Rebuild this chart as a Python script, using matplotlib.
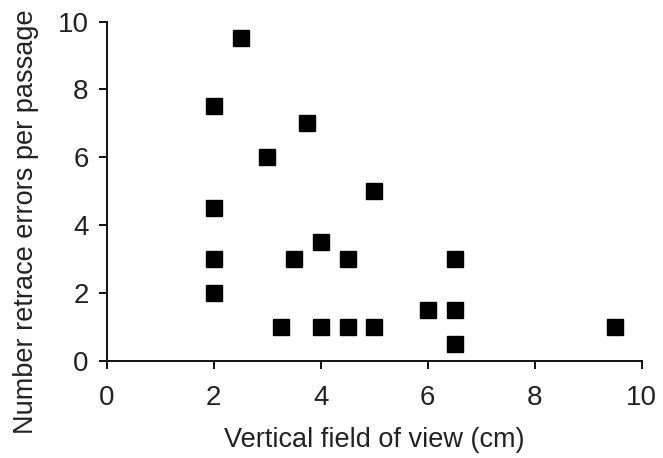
import matplotlib
matplotlib.use("Agg")
import matplotlib.pyplot as plt

# vertical field of view (cm) vs retrace errors per passage
fov_cm = [2.5, 2, 3.75, 3, 5, 2, 4, 2, 3.5, 4.5, 6.5, 2, 6, 6.5, 3.25, 4, 4.5, 5, 6.5, 9.5]
retrace_errors = [9.5, 7.5, 7, 6, 5, 4.5, 3.5, 3, 3, 3, 3, 2, 1.5, 1.5, 1, 1, 1, 1, 0.5, 1]

x_ticks = [0, 2, 4, 6, 8, 10]
y_ticks = [0, 2, 4, 6, 8, 10]

plt.rcParams['font.family'] = ['Liberation Sans', 'DejaVu Sans']

fig = plt.figure(figsize=(6.63, 4.58), dpi=100)
ax = fig.add_axes([0.161, 0.212, 0.807, 0.741])

ax.plot(fov_cm, retrace_errors, linestyle='none', marker='s', markersize=11.5,
        color='black', clip_on=False)

ax.set_xlim(0, 10)
ax.set_ylim(0, 10)
ax.set_xticks(x_ticks)
ax.set_yticks(y_ticks)

for side in ['top', 'right']:
    ax.spines[side].set_visible(False)
for side in ['left', 'bottom']:
    ax.spines[side].set_linewidth(1.4)
    ax.spines[side].set_color('#111111')

ax.tick_params(direction='out', length=6, width=1.4, labelsize=20, colors='#111111',
               labelcolor='#222222')
ax.tick_params(axis='x', pad=11)
ax.tick_params(axis='y', pad=7)

ax.set_xlabel('Vertical field of view (cm)', fontsize=19.5, color='#222222', labelpad=12)
ax.set_ylabel('Number retrace errors per passage', fontsize=19.5, color='#222222')
# label sits a little below the axes centre in the original
ax.yaxis.set_label_coords(-0.127, 0.41)

fig.savefig('out.png', dpi=100)
